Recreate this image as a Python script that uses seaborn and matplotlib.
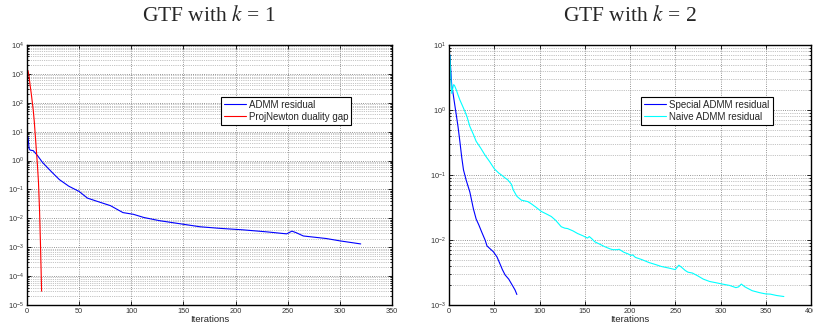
import numpy as np
import pandas as pd
import matplotlib
matplotlib.use('Agg')
import matplotlib.pyplot as plt
import seaborn as sns
from matplotlib.ticker import LogLocator, NullFormatter, MultipleLocator

# values
k1_admm_iter = [1, 2, 3, 6, 10, 15, 20, 25, 31, 40, 50, 58, 70, 80, 92, 102, 112, 127,
                143, 166, 185, 207, 230, 249, 254, 258, 265, 287, 300, 320]
k1_admm_res = [6.6, 2.6, 2.3, 2.2, 1.5, 0.85, 0.55, 0.36, 0.22, 0.13, 0.085, 0.05, 0.036,
               0.0275, 0.0158, 0.0138, 0.0107, 0.0083, 0.0068, 0.0051, 0.0045, 0.0040,
               0.0034, 0.0029, 0.0036, 0.0032, 0.00245, 0.0020, 0.00166, 0.0013]

k1_newton_iter = [1, 2, 3, 4, 5, 6, 7, 8, 9, 10, 11, 12, 13, 14]
k1_newton_gap = [1300, 800, 400, 220, 110, 55, 22, 7, 2.2, 0.7, 0.18, 0.02, 1e-3, 3e-5]

k2_special_iter = [1, 2, 3, 4, 6, 8, 10, 12, 14, 16, 19, 23, 27, 30, 33, 36, 40, 42, 46,
                   49, 53, 56, 59, 62, 66, 71, 73, 75]
k2_special_res = [7.0, 4.0, 2.4, 2.0, 1.3, 0.85, 0.55, 0.33, 0.19, 0.12, 0.083, 0.055,
                  0.03, 0.021, 0.017, 0.0134, 0.0099, 0.0081, 0.0072, 0.0066, 0.0055,
                  0.0044, 0.0035, 0.0029, 0.0025, 0.0019, 0.0017, 0.00145]

k2_naive_iter = [1, 2, 3, 4, 5, 6, 8, 10, 12, 15, 18, 20, 23, 27, 30, 35, 40, 45, 50, 55,
                 58, 62, 65, 69, 71, 75, 80, 87, 91, 96, 102, 108, 113, 118, 124, 128,
                 131, 137, 142, 148, 153, 155, 158, 161, 166, 172, 178, 181, 186, 188,
                 193, 198, 201, 203, 206, 213, 221, 228, 235, 243, 250, 254, 257, 261,
                 264, 269, 275, 281, 288, 295, 302, 310, 317, 320, 323, 327, 335, 343,
                 350, 355, 362, 370]
k2_naive_res = [7.0, 3.2, 1.8, 2.1, 2.45, 2.4, 2.05, 1.7, 1.43, 1.15, 0.92, 0.78, 0.56,
                0.42, 0.33, 0.26, 0.2, 0.16, 0.125, 0.107, 0.1, 0.09, 0.084, 0.072, 0.059,
                0.047, 0.041, 0.039, 0.036, 0.032, 0.0275, 0.025, 0.023, 0.02, 0.016,
                0.0152, 0.015, 0.0138, 0.0126, 0.0116, 0.0107, 0.0113, 0.0104, 0.0094,
                0.0087, 0.0079, 0.0073, 0.0071, 0.0071, 0.0072, 0.0065, 0.0061, 0.0058,
                0.0059, 0.0054, 0.0050, 0.0045, 0.0042, 0.0039, 0.0037, 0.0035, 0.0041,
                0.0038, 0.0034, 0.0032, 0.0031, 0.0028, 0.0025, 0.0023, 0.0022, 0.0021,
                0.0020, 0.00185, 0.0019, 0.0021, 0.0019, 0.00166, 0.00155, 0.00148,
                0.00147, 0.0014, 0.00135]

sns.set_style('ticks')
plt.rcParams['font.family'] = ['Liberation Sans', 'DejaVu Sans']
plt.rcParams['mathtext.fontset'] = 'stix'
plt.rcParams['mathtext.default'] = 'regular'

fig = plt.figure(figsize=(8.13, 3.24), dpi=100)
ax1 = fig.add_axes([27 / 813, 1 - 305 / 324, 365 / 813, 260 / 324])
ax2 = fig.add_axes([449 / 813, 1 - 305 / 324, 362 / 813, 260 / 324])


def style_axes(ax, xmax, ymin, ymax):
    ax.set_yscale('log')
    ax.set_xlim(0, xmax)
    ax.set_ylim(ymin, ymax)
    ax.xaxis.set_major_locator(MultipleLocator(50))
    ax.yaxis.set_major_locator(LogLocator(base=10, numticks=20))
    ax.yaxis.set_minor_locator(LogLocator(base=10, subs=np.arange(2, 10), numticks=200))
    ax.yaxis.set_minor_formatter(NullFormatter())
    ax.grid(True, which='major', axis='both', ls=':', color='0.45', lw=0.6)
    ax.grid(True, which='minor', axis='y', ls=':', color='0.55', lw=0.5)
    ax.tick_params(which='both', direction='in', top=True, right=True,
                   labelsize=5.3, colors='black', labelcolor='0.2', width=0.6, pad=2)
    ax.tick_params(which='major', length=3)
    ax.tick_params(which='minor', length=1.5)
    for s in ax.spines.values():
        s.set_linewidth(1.0)
        s.set_color('black')
    ax.set_xlabel('Iterations', fontsize=6.8, labelpad=0, color='0.15')
    ax.set_ylabel('')


sns.lineplot(x=k1_admm_iter, y=k1_admm_res, ax=ax1, color='#0000ff', lw=0.8,
             label='ADMM residual')
sns.lineplot(x=k1_newton_iter, y=k1_newton_gap, ax=ax1, color='#ff0000', lw=0.8,
             label='ProjNewton duality gap')
style_axes(ax1, 350, 1e-5, 1e4)
ax1.set_title('GTF with $\\mathit{k}\\,=\\,1$', family='Liberation Serif', fontsize=15.5, pad=17)

sns.lineplot(x=k2_special_iter, y=k2_special_res, ax=ax2, color='#0000ff', lw=0.8,
             label='Special ADMM residual')
sns.lineplot(x=k2_naive_iter, y=k2_naive_res, ax=ax2, color='#00ffff', lw=0.8,
             label='Naive ADMM residual')
style_axes(ax2, 400, 1e-3, 1e1)
ax2.set_title('GTF with $\\mathit{k}\\,=\\,2$', family='Liberation Serif', fontsize=15.5, pad=17)

for ax in (ax1, ax2):
    leg = ax.legend(loc='upper left', bbox_to_anchor=(0.531, 0.801), borderaxespad=0,
                    fontsize=7.0, frameon=True, fancybox=False, handlelength=2.3,
                    handletextpad=0.3, borderpad=0.3, labelspacing=0.2)
    leg.get_frame().set_edgecolor('black')
    leg.get_frame().set_linewidth(0.8)
    leg.get_frame().set_alpha(1)

fig.savefig('out.png', dpi=100)
